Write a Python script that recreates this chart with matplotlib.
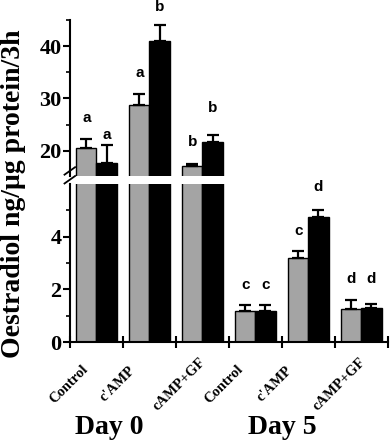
import matplotlib
matplotlib.use('Agg')
import matplotlib.pyplot as plt
import matplotlib.transforms as mtransforms
import numpy as np

# data
groups = ['Control', "c'AMP", 'cAMP+GF', 'Control', "c'AMP", 'cAMP+GF']
grey_vals = [20.6, 28.8, 17.2, 1.16, 3.20, 1.26]
grey_err = [1.7, 2.0, 0.3, 0.26, 0.27, 0.34]
black_vals = [17.7, 40.9, 21.6, 1.17, 4.73, 1.30]
black_err = [3.4, 3.1, 1.4, 0.22, 0.28, 0.13]
grey_letters = ['a', 'a', 'b', 'c', 'c', 'd']
black_letters = ['a', 'b', 'b', 'c', 'd', 'd']
grey_letter_y = [26.3, 34.9, 21.7, 2.15, 4.23, 2.41]
black_letter_y = [23.0, 47.4, 28.2, 2.15, 5.9, 2.41]
day_labels = ['Day 0', 'Day 5']

serif = 'Liberation Serif'
sans = 'Liberation Sans'

fig = plt.figure(figsize=(3.91, 4.40), dpi=100)
ax_top = fig.add_axes([0.179, 0.600, 0.813, 0.355])
ax_bot = fig.add_axes([0.179, 0.2227, 0.813, 0.359])

x = np.arange(len(groups))
w = 0.38
for ax in (ax_top, ax_bot):
    ax.bar(x - w / 2, grey_vals, w, color='#a4a4a4', edgecolor='black', linewidth=1.0, zorder=2)
    ax.bar(x + w / 2, black_vals, w, color='black', edgecolor='black', linewidth=1.0, zorder=2)
    ax.errorbar(x - w / 2, grey_vals, yerr=[np.zeros(6), grey_err], fmt='none',
                ecolor='black', elinewidth=1.6, capsize=4.3, capthick=1.6, zorder=3)
    ax.errorbar(x + w / 2, black_vals, yerr=[np.zeros(6), black_err], fmt='none',
                ecolor='black', elinewidth=1.6, capsize=4.3, capthick=1.6, zorder=3)
    ax.set_xlim(-0.5, 5.5)
    for s in ('top', 'right'):
        ax.spines[s].set_visible(False)
    ax.spines['left'].set_linewidth(1.5)

ax_top.set_ylim(15.2, 45)
ax_top.spines['bottom'].set_visible(False)
ax_top.set_xticks([])
ax_top.set_yticks([20, 30, 40])
ax_top.set_yticks([25, 35, 45], minor=True)

ax_bot.set_ylim(0, 6)
ax_bot.set_yticks([0, 2, 4])
ax_bot.set_yticks([1, 3, 5], minor=True)
ax_bot.spines['bottom'].set_linewidth(1.5)
ax_bot.set_xticks(np.arange(-0.5, 6, 1.0))
ax_bot.set_xticklabels([])
ax_bot.tick_params(axis='x', direction='inout', length=8, width=1.5)

for ax in (ax_top, ax_bot):
    ax.tick_params(axis='y', which='major', direction='out', length=5, width=1.5, pad=1)
    ax.tick_params(axis='y', which='minor', direction='out', length=3, width=1.2)
    for lab in ax.get_yticklabels():
        lab.set_fontfamily(serif)
        lab.set_fontweight('bold')
        lab.set_fontsize(16)

# significance letters
for i in range(len(groups)):
    ax = ax_top if i < 3 else ax_bot
    ax.text(x[i] - w / 2, grey_letter_y[i], grey_letters[i], ha='center', va='center',
            fontfamily=sans, fontweight='bold', fontsize=11, clip_on=False)
    ax.text(x[i] + w / 2, black_letter_y[i], black_letters[i], ha='center', va='center',
            fontfamily=sans, fontweight='bold', fontsize=11, clip_on=False)

# rotated category labels (centred under the axis, slightly left of each group)
label_x = [-0.52, 0.40, 1.57, 2.40, 3.36, 4.58]
trans = mtransforms.blended_transform_factory(ax_bot.transData, ax_bot.transAxes)
for lx, g in zip(label_x, groups):
    ax_bot.text(lx, -0.266, g, transform=trans, rotation=45, rotation_mode='anchor',
                ha='center', va='center', fontfamily=serif, fontweight='bold', fontsize=10.5)

day_x = [0.25, 3.5]
for dx, d in zip(day_x, day_labels):
    ax_bot.text(dx, -0.54, d, transform=trans, ha='center', va='center',
                fontfamily=serif, fontweight='bold', fontsize=20)

fig.text(0.035, 0.559, 'Oestradiol ng/\u03bcg protein/3h', rotation=90, ha='center', va='center',
         fontfamily=serif, fontweight='bold', fontsize=20)

# break marks on the y axis
for dy in (0.0, 0.02):
    fig.add_artist(plt.Line2D([0.165, 0.192], [0.583 + dy, 0.600 + dy], color='black',
                              linewidth=1.3, transform=fig.transFigure))

fig.savefig('out.png', dpi=100)
